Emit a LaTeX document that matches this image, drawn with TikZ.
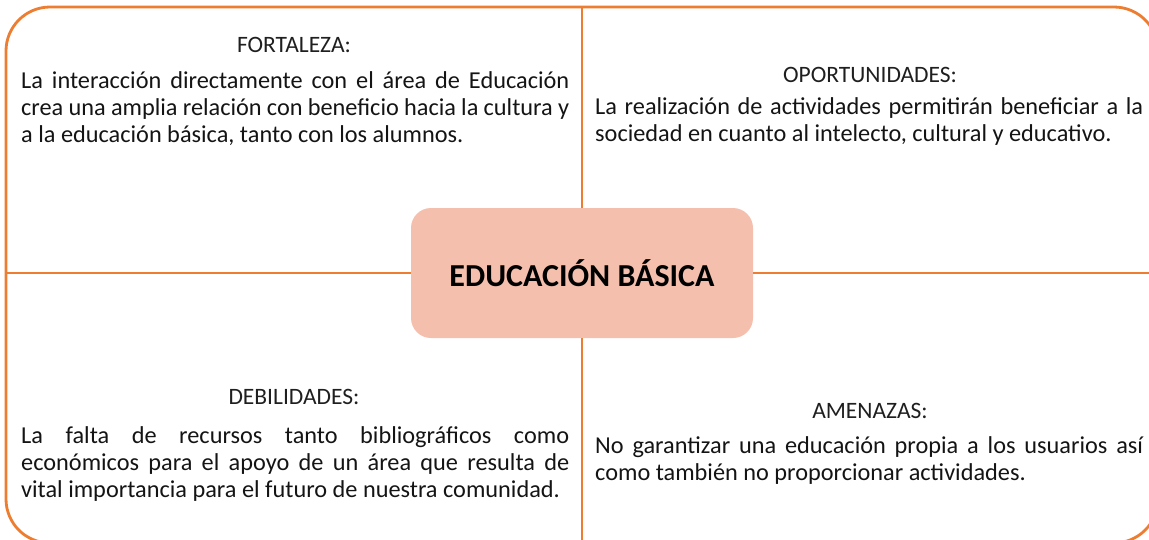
\documentclass[tikz,border=0pt]{standalone}
\usepackage{fontspec}
\setmainfont{Carlito}
\definecolor{frameorange}{HTML}{ED7D31}
\definecolor{hubpeach}{HTML}{F4BFAD}
\tikzset{
  frameline/.style={draw=frameorange, line width=2.8pt},
  quadtitle/.style={anchor=base, inner sep=0pt, text=black!88,
    font=\fontsize{23.5}{27}\selectfont},
  quadtext/.style={anchor=north west, inner sep=0pt, align=justify,
    text width=548pt, text=black!92, font=\fontsize{24.3}{27}\selectfont},
  hubbox/.style={fill=hubpeach, rounded corners=20pt, minimum width=342pt,
    minimum height=130pt, inner sep=0pt, font=\bfseries\fontsize{32}{36}\selectfont}
}

\begin{document}
\begin{tikzpicture}[x=1pt, y=-1pt]
  \useasboundingbox (0,0) rectangle (1149,539);
  % outer frame, runs past the right and bottom edges
  \begin{scope}
    \clip (0,0) rectangle (1149,539);
    \draw[frameline, rounded corners=44pt] (6,7) rectangle (1158,543);
  \end{scope}
  % frame points where the dividers meet it
  \coordinate (ftop)    at (582,7);
  \coordinate (fbottom) at (582,543);
  \coordinate (fleft)   at (6,273);
  \coordinate (fright)  at (1158,273);
  % centre box
  \node[hubbox] (hub) at (582,273) {EDUCACIÓN BÁSICA};
  % dividers
  \draw[frameline] (ftop) -- (hub.north);
  \draw[frameline] (hub.south) -- (fbottom);
  \draw[frameline] (fleft) -- (hub.west);
  \draw[frameline] (hub.east) -- (fright);
  % top left
  \node[quadtitle] (forttitle) at (294,52) {FORTALEZA:};
  \node[quadtext] (forttext) at (21,71)
    {La interacción directamente con el área de Educación\linebreak
     crea una amplia relación con beneficio hacia la cultura y\linebreak
     a la educación básica, tanto con los alumnos.};
  % top right
  \node[quadtitle] (oportitle) at (870,82) {OPORTUNIDADES:};
  \node[quadtext] (oportext) at (595,97)
    {La realización de actividades permitirán beneficiar a la\linebreak
     sociedad en cuanto al intelecto, cultural y educativo.};
  % bottom left
  \node[quadtitle] (debititle) at (294,404) {DEBILIDADES:};
  \node[quadtext] (debitext) at (21,426)
    {La falta de recursos tanto bibliográficos como\linebreak
     económicos para el apoyo de un área que resulta de\linebreak
     vital importancia para el futuro de nuestra comunidad.};
  % bottom right
  \node[quadtitle] (amentitle) at (870,418) {AMENAZAS:};
  \node[quadtext] (amentext) at (595,436)
    {No garantizar una educación propia a los usuarios así\linebreak
     como también no proporcionar actividades.};
\end{tikzpicture}
\end{document}
